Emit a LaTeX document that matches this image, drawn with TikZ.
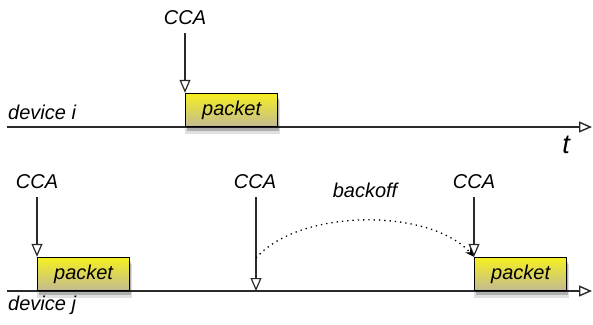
\documentclass[tikz,border=0pt]{standalone}
\usepackage{fontspec}
\setmainfont{Liberation Sans}
\usetikzlibrary{arrows.meta,shadows,positioning}
\definecolor{linecol}{HTML}{2A2A2A}
\definecolor{pkttop}{HTML}{F6F020}
\definecolor{pktbot}{HTML}{C2BB92}
\tikzset{
  lbl/.style={font=\fontsize{20}{24}\selectfont\itshape, inner sep=0pt},
  pktbox/.style={draw=black, line width=1.2pt, minimum width=92pt, minimum height=33pt,
    inner sep=0pt, top color=pkttop, bottom color=pktbot, anchor=south west,
    font=\fontsize{20}{24}\selectfont\itshape,
    general shadow={shadow xshift=1pt, shadow yshift=-7pt, fill=black, opacity=0.12, shadow scale=1.04},
    general shadow={shadow xshift=1pt, shadow yshift=-5pt, fill=black, opacity=0.22}},
  timeline/.style={draw=linecol, line width=1.4pt, -{Triangle[open, length=13pt, width=11pt]}},
  ccaarrow/.style={draw=linecol, line width=1.2pt, -{Triangle[open, length=13pt, width=11pt]}},
  backoffarrow/.style={draw=black, line width=1.3pt, dash pattern=on 1.3pt off 4pt, -{Stealth[length=9pt, width=7pt]}}
}
\begin{document}
\begin{tikzpicture}[x=1pt, y=-1pt]
\useasboundingbox (0,0) rectangle (593,324);
% timelines
\coordinate (ti0) at (7,127);
\coordinate (ti1) at (592,127);
\coordinate (tj0) at (7,291);
\coordinate (tj1) at (592,291);
\draw[timeline] (ti0) -- (ti1);
\draw[timeline] (tj0) -- (tj1);
% labels
\node[lbl, anchor=west] (devi) at (8,112) {device i};
\node[lbl, anchor=west] (devj) at (8,305) {device j};
\node[font=\fontsize{27}{30}\selectfont\itshape, inner sep=0pt] (t) at (566,145) {t};
\node[lbl] (bo) at (365,190) {backoff};
% packets
\node[pktbox] (p1) at (185,127) {packet};
\node[pktbox] (p2) at (37,291) {packet};
\node[pktbox] (p3) at (474,291) {packet};
% CCA labels
\node[lbl] (c1) at (185,18) {CCA};
\node[lbl] (c2) at (37,182) {CCA};
\node[lbl] (c3) at (255,182) {CCA};
\node[lbl] (c4) at (474,182) {CCA};
\coordinate (c1s) at (185,33);
\coordinate (c2s) at (37,197);
\coordinate (c3s) at (256,197);
\coordinate (c4s) at (474,197);
\coordinate (c3e) at (256,291);
\coordinate (b0) at (256,258);
% CCA arrows
\draw[ccaarrow] (c1s) -- (p1.north west);
\draw[ccaarrow] (c2s) -- (p2.north west);
\draw[ccaarrow] (c3s) -- (c3e);
\draw[ccaarrow] (c4s) -- (p3.north west);
% backoff
\draw[backoffarrow] (b0) .. controls (300,208) and (430,208) .. (p3.north west);
\end{tikzpicture}
\end{document}
